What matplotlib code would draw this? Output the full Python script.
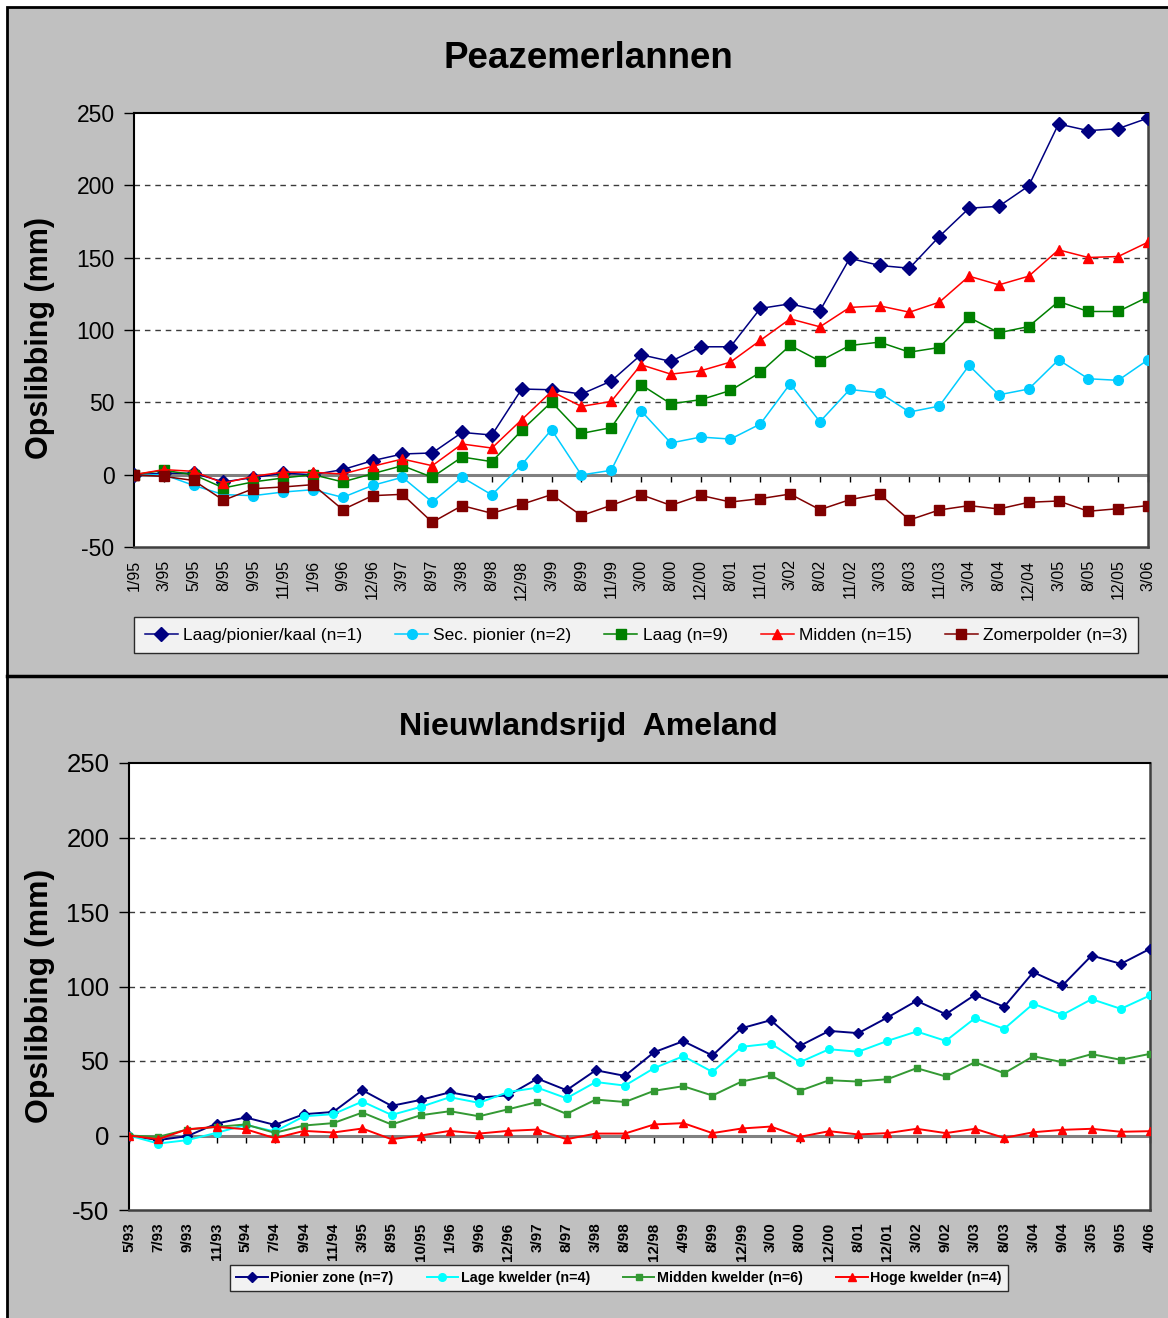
import numpy as np
import matplotlib
matplotlib.use("Agg")
import matplotlib.pyplot as plt
from matplotlib.patches import Rectangle
from matplotlib.lines import Line2D

plt.rcParams['font.family'] = ['Liberation Sans', 'DejaVu Sans']
plt.rcParams['axes.unicode_minus'] = False

# Peazemerlannen, opslibbing in mm t.o.v. 1/95
dates_pz = ['1/95', '3/95', '5/95', '8/95', '9/95', '11/95', '1/96', '9/96', '12/96', '3/97',
            '8/97', '3/98', '8/98', '12/98', '3/99', '8/99', '11/99', '3/00', '8/00', '12/00',
            '8/01', '11/01', '3/02', '8/02', '11/02', '3/03', '8/03', '11/03', '3/04', '8/04',
            '12/04', '3/05', '8/05', '12/05', '3/06']
laag_pionier = [0, 1, 1, -5, -2, 1, 0, 3.5, 9.7, 14.3, 15, 29.2, 27.4, 59.2, 58.7, 55.7, 64.7,
                82.9, 78.3, 88.4, 88.4, 114.9, 118.1, 113.3, 149.6, 144.6, 142.7, 164.6, 184.2,
                185.5, 199.6, 242.4, 237.8, 239.2, 246.5]
sec_pionier = [0, 0, -7.4, -13.8, -14.5, -12, -10.4, -15.7, -7.4, -1.8, -18.9, -1.8, -14, 6.9,
               31.1, -0.2, 3, 44.2, 21.9, 26, 24.6, 35, 62.8, 36.6, 58.9, 56.6, 43.3, 47.4, 75.5,
               55.2, 59.2, 79.4, 66.3, 65.2, 79.4]
laag = [0, 3, 0, -9.2, -5, -2.3, 0, -5, 0.7, 6.2, -1.8, 12.2, 9, 30.6, 50.2, 28.5, 32.5, 62.2,
        49, 51.8, 58.2, 70.7, 89.3, 78.5, 89.3, 91.6, 84.7, 87.9, 108.7, 98.1, 102.4, 119.7,
        112.8, 112.8, 122.9]
midden = [0, 3.5, 2.3, -5.8, -1.2, 1.8, 1.6, 0.5, 5.8, 10.8, 6.2, 21.2, 18.4, 38, 57.5, 47.2,
          50.6, 76, 69.5, 71.8, 77.8, 92.8, 107.7, 102.2, 115.6, 116.7, 112.3, 119.2, 137.2,
          131.2, 137.2, 155.4, 150.1, 150.8, 160.7]
zomerpolder = [0, -1.2, -4, -17.7, -9.7, -8.5, -6.9, -24.2, -14.5, -13.6, -32.9, -21.4, -26.7,
               -20.5, -13.8, -28.3, -21.2, -13.8, -21.2, -14.3, -18.9, -16.6, -13.4, -24.2,
               -17.3, -13.4, -31.3, -24.4, -21.4, -23.7, -19.1, -18.2, -25.3, -23.5, -21.4]

# Nieuwlandsrijd Ameland, opslibbing in mm t.o.v. 5/93
dates_am = ['5/93', '7/93', '9/93', '11/93', '5/94', '7/94', '9/94', '11/94', '3/95', '8/95',
            '10/95', '1/96', '9/96', '12/96', '3/97', '8/97', '3/98', '8/98', '12/98', '4/99',
            '8/99', '12/99', '3/00', '8/00', '12/00', '8/01', '12/01', '3/02', '9/02', '3/03',
            '8/03', '3/04', '9/04', '3/05', '9/05', '4/06']
pionier_zone = [0, -3.1, -0.4, 8, 12.1, 7.1, 14.3, 15.8, 30.4, 19.9, 23.9, 29, 25.4, 27, 38.2,
                30.4, 43.8, 40, 55.9, 63.3, 53.7, 72, 77.4, 60.2, 70.2, 68.7, 79.2, 90.4, 81.4,
                94.4, 86.4, 109.6, 100.7, 120.8, 115.2, 125.3]
lage_kwelder = [0, -5.4, -3.1, 1.8, 7.1, 2.7, 12.9, 14.3, 22.8, 13.8, 19.2, 25.7, 21.9, 29.2,
                32.1, 25, 35.9, 33.5, 45.2, 53.2, 42.7, 59.5, 61.7, 49.2, 57.9, 56.2, 63.5, 69.8,
                63.5, 78.7, 71.6, 88.4, 81, 91.5, 85, 94]
midden_kwelder = [0, -0.9, 4, 5.8, 7.4, 1.8, 6.7, 8.3, 15.4, 7.4, 13.6, 16.3, 12.9, 17.6, 22.5,
                  14.5, 24.1, 22.5, 30, 33.1, 26.8, 36.2, 40.3, 30, 37.1, 36.2, 37.8, 45.2, 39.6,
                  49.2, 41.8, 53.2, 49.2, 54.6, 50.8, 54.8]
hoge_kwelder = [0, -2.5, 4.2, 5.8, 4.2, -1.8, 3.1, 2, 4.7, -2.5, 0, 3.1, 1.3, 3.1, 4, -2.5, 1.3,
                1.3, 7.4, 8.3, 1.6, 4.7, 6, -0.9, 2.9, 0.7, 1.6, 4.5, 1.6, 4.5, -1.6, 2.2, 3.8,
                4.5, 2.5, 2.9]

W, H = 1168, 1318
fig = plt.figure(figsize=(W / 100, H / 100), dpi=100, facecolor='white')

# grey chart areas with black frame, split in two
fig.patches.append(Rectangle((7 / W, -0.05), 1.0, 1 - 7 / H + 0.05, transform=fig.transFigure,
                             facecolor='#c0c0c0', edgecolor='black', lw=2, zorder=-10))
fig.lines.append(Line2D([7 / W, 1], [1 - 676 / H] * 2, transform=fig.transFigure,
                        color='black', lw=2.5))


def fy(px):
    return 1 - px / H


def panel(box, dates, series, title, title_y, ylab_y, ytick_size, xtick_kw, leg_kw):
    left, top, right, bottom = box
    ax = fig.add_axes([left / W, fy(bottom), (right - left) / W, (bottom - top) / H])
    ax.set_facecolor('white')
    x = np.arange(len(dates))

    for g in (50, 100, 150, 200):
        ax.axhline(g, color='#3a3a3a', lw=1, ls=(0, (4, 3.5)), zorder=1)
    ax.axhline(0, color='#808080', lw=2.2, zorder=2)

    for vals, label, color, marker, ms, lw in series:
        ax.plot(x, vals, color=color, marker=marker, ms=ms, lw=lw, label=label,
                markeredgecolor=color, zorder=3)

    ax.set_xlim(0, len(dates) - 1)
    ax.set_ylim(-50, 250)
    ax.set_yticks(range(-50, 251, 50))
    ax.tick_params(axis='y', length=7, width=1, direction='out', pad=7, labelsize=ytick_size)
    ax.set_xticks(x, dates, rotation=90, **xtick_kw)
    ax.tick_params(axis='x', length=0, pad=9)

    # category ticks sit on the zero line
    sec = ax.secondary_xaxis(50 / 300)
    sec.set_xticks(x)
    sec.tick_params(axis='x', labelbottom=False, length=5, width=1, direction='out')
    for s in sec.spines.values():
        s.set_visible(False)

    for side in ('left', 'top'):
        ax.spines[side].set_color('black')
        ax.spines[side].set_linewidth(1.5)
    for side in ('right', 'bottom'):
        ax.spines[side].set_color('#404040')
        ax.spines[side].set_linewidth(1.8)

    fig.text(588 / W, fy(title_y), title, ha='center', va='center', fontsize=leg_kw.pop('title_size'),
             fontweight='bold')
    fig.text(40 / W, fy(ylab_y), 'Opslibbing (mm)', rotation=90, ha='center', va='center',
             fontsize=leg_kw.pop('ylab_size'), fontweight='bold')

    cx, cy = leg_kw.pop('center')
    leg = ax.legend(loc='center', bbox_to_anchor=(cx / W, fy(cy)), bbox_transform=fig.transFigure,
                    ncol=len(series), frameon=True, fancybox=False, **leg_kw)
    leg.get_frame().set_edgecolor('black')
    leg.get_frame().set_linewidth(1)
    return ax


top_series = [
    (laag_pionier, 'Laag/pionier/kaal (n=1)', '#000080', 'D', 7, 1.1),
    (sec_pionier, 'Sec. pionier (n=2)', '#00ccff', 'o', 7, 1.1),
    (laag, 'Laag (n=9)', '#008000', 's', 6.5, 1.1),
    (midden, 'Midden (n=15)', '#ff0000', '^', 7.5, 1.1),
    (zomerpolder, 'Zomerpolder (n=3)', '#800000', 's', 6.5, 1.1),
]
panel((134, 113, 1148, 547), dates_pz, top_series, 'Peazemerlannen', 59, 338, 16.5,
      dict(fontsize=11.5),
      dict(title_size=26.5, ylab_size=22, center=(636, 635), fontsize=12.5, handlelength=1.9,
           handletextpad=0.3, columnspacing=1.9, borderpad=0.6, borderaxespad=0))

bottom_series = [
    (pionier_zone, 'Pionier zone (n=7)', '#000080', 'D', 5.5, 1.4),
    (lage_kwelder, 'Lage kwelder (n=4)', '#00ffff', 'o', 5.5, 1.4),
    (midden_kwelder, 'Midden kwelder (n=6)', '#339933', 's', 5, 1.4),
    (hoge_kwelder, 'Hoge kwelder (n=4)', '#ff0000', '^', 6, 1.4),
]
panel((129, 763, 1150, 1210), dates_am, bottom_series, 'Nieuwlandsrijd  Ameland', 727, 996, 18.5,
      dict(fontsize=11, fontweight='bold'),
      dict(title_size=23, ylab_size=23, center=(619, 1278), handlelength=2.2,
           handletextpad=0.2, columnspacing=2.3, borderpad=0.45, borderaxespad=0,
           prop=dict(weight='bold', size=10.3)))

fig.savefig('out.png', dpi=100, facecolor=fig.get_facecolor())
